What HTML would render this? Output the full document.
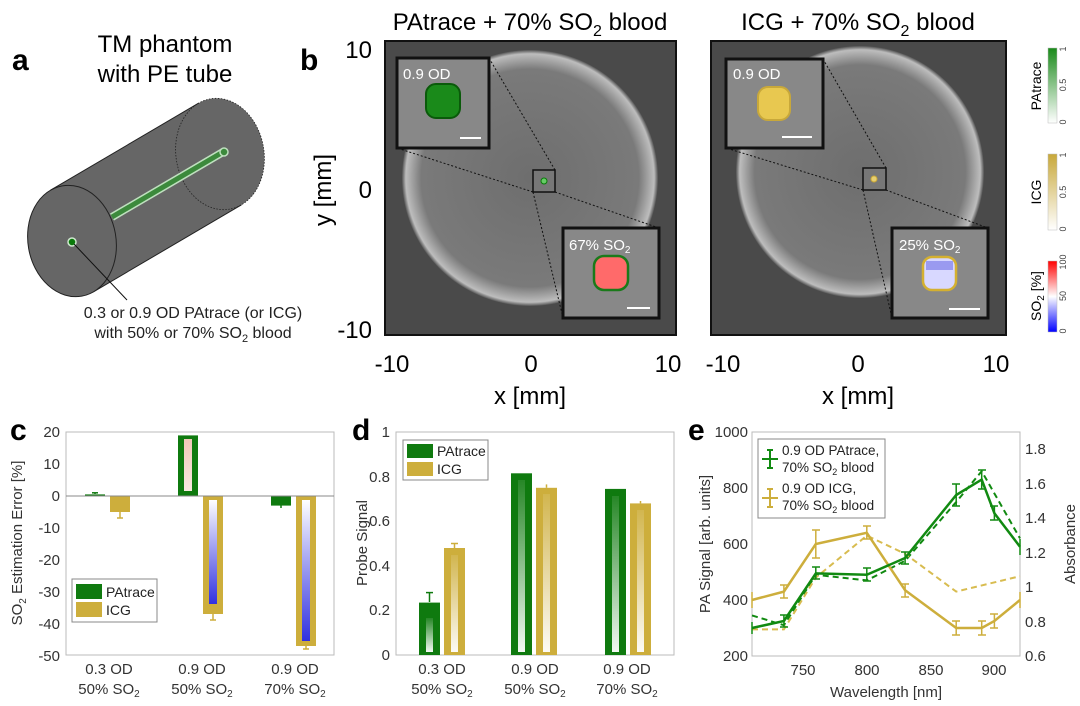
<!DOCTYPE html>
<html><head><meta charset="utf-8"><style>
body{margin:0;background:#fff;width:1080px;height:706px;overflow:hidden}
svg{display:block}
text{font-family:"Liberation Sans",sans-serif}
</style></head><body>
<svg width="1080" height="706" viewBox="0 0 1080 706" xmlns="http://www.w3.org/2000/svg">
<defs>
<radialGradient id="disc" cx="50%" cy="50%" r="50%">
<stop offset="0" stop-color="#6e6e6e"/><stop offset="0.85" stop-color="#7a7a7a"/><stop offset="0.97" stop-color="#bdbdbd"/><stop offset="1" stop-color="#555"/>
</radialGradient>
<linearGradient id="gcb" x1="0" y1="1" x2="0" y2="0"><stop offset="0" stop-color="#fff"/><stop offset="1" stop-color="#1a8a1a"/></linearGradient>
<linearGradient id="ycb" x1="0" y1="1" x2="0" y2="0"><stop offset="0" stop-color="#fff"/><stop offset="1" stop-color="#c8a83a"/></linearGradient>
<linearGradient id="scb" x1="0" y1="1" x2="0" y2="0"><stop offset="0" stop-color="#0000ff"/><stop offset="0.5" stop-color="#fff"/><stop offset="1" stop-color="#ff0000"/></linearGradient>
<linearGradient id="blu" x1="0" y1="0" x2="0" y2="1"><stop offset="0" stop-color="#fff"/><stop offset="1" stop-color="#3030e0"/></linearGradient>
<linearGradient id="pnk" x1="0" y1="0" x2="0" y2="1"><stop offset="0" stop-color="#f0c8b8"/><stop offset="1" stop-color="#f8e8e0"/></linearGradient>
<linearGradient id="wst" x1="0" y1="1" x2="0" y2="0"><stop offset="0" stop-color="#fff" stop-opacity="0.95"/><stop offset="1" stop-color="#fff" stop-opacity="0.1"/></linearGradient>
</defs>

<!-- Panel a -->
<text x="12" y="70" font-size="30" font-weight="bold">a</text>
<text x="165" y="52" font-size="24" text-anchor="middle">TM phantom</text>
<text x="165" y="82" font-size="24" text-anchor="middle">with PE tube</text>
<polygon points="50.5,190.2 198.5,103.2 241.5,204.8 93.5,291.8" fill="#666"/>
<ellipse cx="0" cy="0" rx="56" ry="44" transform="translate(220,154) rotate(80)" fill="#666" stroke="#222" stroke-width="0.8" stroke-dasharray="1.5,1.5"/>
<line x1="50.5" y1="190.2" x2="198.5" y2="103.2" stroke="#222" stroke-width="1"/>
<line x1="93.5" y1="291.8" x2="241.5" y2="204.8" stroke="#222" stroke-width="1"/>
<ellipse cx="0" cy="0" rx="56" ry="44" transform="translate(72,241) rotate(80)" fill="#666" stroke="#222" stroke-width="1"/>
<line x1="112" y1="217" x2="223" y2="152" stroke="#bfe0bf" stroke-width="8"/>
<line x1="112" y1="217" x2="223" y2="152" stroke="#3c8a3c" stroke-width="5"/>
<ellipse cx="224" cy="152" rx="4" ry="4" fill="#3c8a3c" stroke="#bfe0bf" stroke-width="1.5"/>
<circle cx="72" cy="242" r="4" fill="#0a7a0a" stroke="#cfe8cf" stroke-width="1.5"/>
<line x1="74" y1="244" x2="127" y2="300" stroke="#111" stroke-width="1"/>
<text x="193" y="318" font-size="16" text-anchor="middle" fill="#222">0.3 or 0.9 OD PAtrace (or ICG)</text>
<text x="193" y="338" font-size="16" text-anchor="middle" fill="#222">with 50% or 70% SO<tspan font-size="11" dy="4">2</tspan><tspan dy="-4"> blood</tspan></text>

<!-- Panel b -->
<text x="300" y="70" font-size="30" font-weight="bold">b</text>
<text x="530" y="30" font-size="24" text-anchor="middle">PAtrace + 70% SO<tspan font-size="16" dy="6">2</tspan><tspan dy="-6"> blood</tspan></text>
<text x="858" y="30" font-size="24" text-anchor="middle">ICG + 70% SO<tspan font-size="16" dy="6">2</tspan><tspan dy="-6"> blood</tspan></text>
<text transform="translate(331,190) rotate(-90)" font-size="24" text-anchor="middle">y [mm]</text>
<text x="372" y="58" font-size="24" text-anchor="end">10</text>
<text x="372" y="198" font-size="24" text-anchor="end">0</text>
<text x="372" y="338" font-size="24" text-anchor="end">-10</text>
<text x="392" y="372" font-size="24" text-anchor="middle">-10</text>
<text x="531" y="372" font-size="24" text-anchor="middle">0</text>
<text x="668" y="372" font-size="24" text-anchor="middle">10</text>
<text x="530" y="404" font-size="24" text-anchor="middle">x [mm]</text>
<text x="723" y="372" font-size="24" text-anchor="middle">-10</text>
<text x="858" y="372" font-size="24" text-anchor="middle">0</text>
<text x="996" y="372" font-size="24" text-anchor="middle">10</text>
<text x="858" y="404" font-size="24" text-anchor="middle">x [mm]</text>

<rect x="385" y="41" width="291" height="294" fill="#4a4a4a" stroke="#111" stroke-width="2"/>
<ellipse cx="530" cy="178" rx="128" ry="128" fill="url(#disc)"/>
<rect x="533" y="170" width="22" height="22" fill="#777" stroke="#111" stroke-width="1.5"/>
<circle cx="544" cy="181" r="3" fill="#6c6" stroke="#0a7a0a"/>
<g stroke="#111" stroke-width="1" stroke-dasharray="2,2">
<line x1="533" y1="192" x2="397" y2="148"/><line x1="555" y1="170" x2="489" y2="58"/>
<line x1="555" y1="192" x2="659" y2="228"/><line x1="533" y1="192" x2="563" y2="318"/>
</g>
<rect x="397" y="58" width="92" height="90" fill="#888" stroke="#111" stroke-width="3"/>
<rect x="426" y="84" width="34" height="34" rx="10" fill="#1a8a1a" stroke="#0a5a0a" stroke-width="2"/>
<text x="403" y="79" font-size="15" fill="#fff">0.9 OD</text>
<line x1="460" y1="138" x2="481" y2="138" stroke="#fff" stroke-width="2"/>
<rect x="563" y="228" width="96" height="90" fill="#888" stroke="#111" stroke-width="3"/>
<rect x="594" y="256" width="34" height="34" rx="10" fill="#ff6a6a" stroke="#1a7a1a" stroke-width="2.5"/>
<text x="569" y="250" font-size="15" fill="#fff">67% SO<tspan font-size="10" dy="3">2</tspan></text>
<line x1="627" y1="308" x2="650" y2="308" stroke="#fff" stroke-width="2"/>

<rect x="711" y="41" width="295" height="294" fill="#4a4a4a" stroke="#111" stroke-width="2"/>
<ellipse cx="860" cy="172" rx="124" ry="126" fill="url(#disc)"/>
<rect x="863" y="168" width="23" height="22" fill="#777" stroke="#111" stroke-width="1.5"/>
<circle cx="874" cy="179" r="3" fill="#e8d070" stroke="#c8a83a"/>
<g stroke="#111" stroke-width="1" stroke-dasharray="2,2">
<line x1="863" y1="190" x2="726" y2="148"/><line x1="886" y1="168" x2="823" y2="59"/>
<line x1="886" y1="190" x2="988" y2="228"/><line x1="863" y1="190" x2="892" y2="318"/>
</g>
<rect x="726" y="59" width="97" height="89" fill="#888" stroke="#111" stroke-width="3"/>
<rect x="758" y="87" width="32" height="33" rx="10" fill="#e8c850" stroke="#c8a83a" stroke-width="2"/>
<text x="733" y="79" font-size="15" fill="#fff">0.9 OD</text>
<line x1="782" y1="137" x2="812" y2="137" stroke="#fff" stroke-width="2"/>
<rect x="892" y="228" width="96" height="90" fill="#888" stroke="#111" stroke-width="3"/>
<rect x="923" y="257" width="33" height="33" rx="9" fill="#d8d8ff" stroke="#d4b030" stroke-width="2.5"/>
<rect x="926" y="261" width="27" height="9" fill="#9a9af0"/>
<text x="899" y="250" font-size="15" fill="#fff">25% SO<tspan font-size="10" dy="3">2</tspan></text>
<line x1="949" y1="309" x2="980" y2="309" stroke="#fff" stroke-width="2"/>

<rect x="1048" y="48" width="9" height="75" fill="url(#gcb)" stroke="#bbb" stroke-width="0.5"/>
<rect x="1048" y="154" width="9" height="76" fill="url(#ycb)" stroke="#bbb" stroke-width="0.5"/>
<rect x="1048" y="261" width="9" height="71" fill="url(#scb)" stroke="#bbb" stroke-width="0.5"/>
<text transform="translate(1041,86) rotate(-90)" font-size="14" text-anchor="middle">PAtrace</text>
<text transform="translate(1041,192) rotate(-90)" font-size="14" text-anchor="middle">ICG</text>
<text transform="translate(1041,296) rotate(-90)" font-size="14" text-anchor="middle">SO<tspan font-size="10" dy="3">2</tspan><tspan dy="-3"> [%]</tspan></text>
<g font-size="9" fill="#444" text-anchor="middle">
<text transform="translate(1066,122) rotate(-90)">0</text><text transform="translate(1066,85) rotate(-90)">0.5</text><text transform="translate(1066,49) rotate(-90)">1</text>
<text transform="translate(1066,229) rotate(-90)">0</text><text transform="translate(1066,192) rotate(-90)">0.5</text><text transform="translate(1066,155) rotate(-90)">1</text>
<text transform="translate(1066,331) rotate(-90)">0</text><text transform="translate(1066,296) rotate(-90)">50</text><text transform="translate(1066,262) rotate(-90)">100</text>
</g>

<!-- Panel c -->
<text x="10" y="440" font-size="30" font-weight="bold">c</text>
<rect x="66" y="432" width="268" height="223" fill="#fff" stroke="#bbb" stroke-width="1"/>
<g font-size="15" fill="#333" text-anchor="end">
<text x="60" y="437">20</text><text x="60" y="469">10</text><text x="60" y="501">0</text><text x="60" y="533">-10</text>
<text x="60" y="565">-20</text><text x="60" y="597">-30</text><text x="60" y="629">-40</text><text x="60" y="661">-50</text>
</g>
<text transform="translate(22,543) rotate(-90)" font-size="15" fill="#333" text-anchor="middle">SO<tspan font-size="10" dy="4">2</tspan><tspan dy="-4"> Estimation Error [%]</tspan></text>
<g font-size="15" fill="#333" text-anchor="middle">
<text x="109" y="674">0.3 OD</text><text x="109" y="694">50% SO<tspan font-size="10" dy="3">2</tspan></text>
<text x="202" y="674">0.9 OD</text><text x="202" y="694">50% SO<tspan font-size="10" dy="3">2</tspan></text>
<text x="295" y="674">0.9 OD</text><text x="295" y="694">70% SO<tspan font-size="10" dy="3">2</tspan></text>
</g>
<rect x="85" y="494.4" width="20" height="1.6" fill="#0f7a0f"/>
<line x1="95" y1="492.8" x2="95" y2="494" stroke="#0f7a0f" stroke-width="1.5"/><line x1="92" y1="492.8" x2="98" y2="492.8" stroke="#0f7a0f" stroke-width="1.5"/>
<rect x="110" y="496" width="20" height="16" fill="#cdae3c"/>
<line x1="120" y1="512" x2="120" y2="518" stroke="#cdae3c" stroke-width="1.5"/><line x1="117" y1="518" x2="123" y2="518" stroke="#cdae3c" stroke-width="1.5"/>
<rect x="178" y="435.4" width="20" height="60.6" fill="#0f7a0f"/>
<rect x="184" y="439" width="8" height="52" fill="url(#pnk)"/>
<rect x="203" y="496" width="20" height="118" fill="#cdae3c"/>
<rect x="209" y="500" width="8" height="104" fill="url(#blu)"/>
<line x1="213" y1="614" x2="213" y2="620" stroke="#cdae3c" stroke-width="1.5"/><line x1="210" y1="620" x2="216" y2="620" stroke="#cdae3c" stroke-width="1.5"/>
<rect x="271" y="496" width="20" height="9.6" fill="#0f7a0f"/>
<line x1="281" y1="505" x2="281" y2="508" stroke="#0f7a0f" stroke-width="1.5"/>
<rect x="296" y="496" width="20" height="150" fill="#cdae3c"/>
<rect x="302" y="500" width="8" height="141" fill="url(#blu)"/>
<line x1="306" y1="646" x2="306" y2="649" stroke="#cdae3c" stroke-width="1.5"/><line x1="303" y1="649" x2="309" y2="649" stroke="#cdae3c" stroke-width="1.5"/>
<line x1="66" y1="496" x2="334" y2="496" stroke="#888" stroke-width="1"/>
<rect x="72" y="579" width="85" height="43" fill="#fff" stroke="#888"/>
<rect x="76" y="584" width="26" height="15" fill="#0f7a0f"/><text x="106" y="597" font-size="14" fill="#222">PAtrace</text>
<rect x="76" y="602" width="26" height="15" fill="#cdae3c"/><text x="106" y="615" font-size="14" fill="#222">ICG</text>

<!-- Panel d -->
<text x="352" y="440" font-size="30" font-weight="bold">d</text>
<rect x="396" y="432" width="278" height="223" fill="#fff" stroke="#bbb"/>
<g font-size="15" fill="#333" text-anchor="end">
<text x="390" y="437">1</text><text x="390" y="482">0.8</text><text x="390" y="526">0.6</text>
<text x="390" y="571">0.4</text><text x="390" y="615">0.2</text><text x="390" y="660">0</text>
</g>
<text transform="translate(367,543) rotate(-90)" font-size="15" fill="#333" text-anchor="middle">Probe Signal</text>
<g font-size="15" fill="#333" text-anchor="middle">
<text x="442" y="674">0.3 OD</text><text x="442" y="694">50% SO<tspan font-size="10" dy="3">2</tspan></text>
<text x="535" y="674">0.9 OD</text><text x="535" y="694">50% SO<tspan font-size="10" dy="3">2</tspan></text>
<text x="627" y="674">0.9 OD</text><text x="627" y="694">70% SO<tspan font-size="10" dy="3">2</tspan></text>
</g>
<rect x="419" y="602.6" width="21" height="52.4" fill="#0f7a0f"/><rect x="426" y="618" width="7" height="34" fill="url(#wst)"/>
<line x1="429.5" y1="602" x2="429.5" y2="592.6" stroke="#0f7a0f" stroke-width="1.5"/><line x1="426" y1="592.6" x2="433" y2="592.6" stroke="#0f7a0f" stroke-width="1.5"/>
<rect x="444" y="548" width="21" height="107" fill="#cdae3c"/><rect x="451" y="555" width="7" height="97" fill="url(#wst)"/>
<line x1="454.5" y1="548" x2="454.5" y2="543.5" stroke="#cdae3c" stroke-width="1.5"/><line x1="451" y1="543.5" x2="458" y2="543.5" stroke="#cdae3c" stroke-width="1.5"/>
<rect x="511" y="473.3" width="21" height="181.7" fill="#0f7a0f"/><rect x="518" y="480" width="7" height="172" fill="url(#wst)"/>
<rect x="536" y="487.8" width="21" height="167.2" fill="#cdae3c"/><rect x="543" y="494" width="7" height="158" fill="url(#wst)"/>
<line x1="546.5" y1="487.8" x2="546.5" y2="484.4" stroke="#cdae3c" stroke-width="1.5"/>
<rect x="605" y="488.9" width="21" height="166.1" fill="#0f7a0f"/><rect x="612" y="496" width="7" height="156" fill="url(#wst)"/>
<rect x="630" y="503.4" width="21" height="151.6" fill="#cdae3c"/><rect x="637" y="510" width="7" height="142" fill="url(#wst)"/>
<line x1="640.5" y1="503.4" x2="640.5" y2="501" stroke="#cdae3c" stroke-width="1.5"/>
<rect x="403" y="440" width="85" height="40" fill="#fff" stroke="#888"/>
<rect x="407" y="444" width="26" height="14" fill="#0f7a0f"/><text x="437" y="456" font-size="14" fill="#222">PAtrace</text>
<rect x="407" y="462" width="26" height="14" fill="#cdae3c"/><text x="437" y="474" font-size="14" fill="#222">ICG</text>

<!-- Panel e -->
<text x="688" y="440" font-size="30" font-weight="bold">e</text>
<rect x="752" y="432" width="268" height="224" fill="#fff" stroke="#bbb"/>
<g font-size="15" fill="#333" text-anchor="end">
<text x="748" y="437">1000</text><text x="748" y="493">800</text><text x="748" y="549">600</text><text x="748" y="605">400</text><text x="748" y="661">200</text>
</g>
<g font-size="15" fill="#333">
<text x="1025" y="454">1.8</text><text x="1025" y="489">1.6</text><text x="1025" y="523">1.4</text><text x="1025" y="558">1.2</text>
<text x="1025" y="592">1</text><text x="1025" y="627">0.8</text><text x="1025" y="661">0.6</text>
</g>
<g font-size="15" fill="#333" text-anchor="middle">
<text x="803" y="675">750</text><text x="867" y="675">800</text><text x="931" y="675">850</text><text x="994" y="675">900</text>
<text x="886" y="697">Wavelength [nm]</text>
</g>
<text transform="translate(710,544) rotate(-90)" font-size="15" fill="#333" text-anchor="middle">PA Signal [arb. units]</text>
<text transform="translate(1075,544) rotate(-90)" font-size="15" fill="#333" text-anchor="middle">Absorbance</text>
<polyline points="752,615.4 783.9,625.2 815.8,574.8 866.8,580.4 905.1,560.8 956.2,502 981.7,471.2 1020,538.4" fill="none" stroke="#118a11" stroke-width="2" stroke-dasharray="6,4"/>
<polyline points="752,629.4 783.9,629.4 815.8,577.6 866.8,535.6 905.1,553.8 956.2,591.6 1020,576.2" fill="none" stroke="#d8bc50" stroke-width="2" stroke-dasharray="6,4"/>
<polyline points="752,600 783.9,591.6 815.8,544 866.8,532.8 905.1,590.2 956.2,628 981.7,628 994.4,621 1020,600" fill="none" stroke="#cdae3c" stroke-width="2.5"/>
<polyline points="752,628 783.9,621 815.8,573.4 866.8,574.8 905.1,558 956.2,495 981.7,479.6 994.4,513.2 1020,546.8" fill="none" stroke="#118a11" stroke-width="2.5"/>
<g stroke="#cdae3c" stroke-width="1.5">
<path d="M752,592v16M783.9,585v13M780,585h8M780,598h8M815.8,530v28M812,530h8M812,558h8M866.8,526v13M863,526h8M863,539h8M905.1,584v13M901,584h8M901,597h8M956.2,621v14M952,621h8M952,635h8M981.7,621v14M978,621h8M978,635h8M994.4,614v14M990,614h8M990,628h8M1020,592v16"/>
</g>
<g stroke="#118a11" stroke-width="1.5">
<path d="M752,622v12M783.9,615v12M780,615h8M780,627h8M815.8,567v12M812,567h8M812,579h8M866.8,568v13M863,568h8M863,581h8M905.1,552v12M901,552h8M901,564h8M956.2,484v22M952,484h8M952,506h8M981.7,470v19M978,470h8M978,489h8M994.4,506v14M990,506h8M990,520h8M1020,539v16"/>
</g>
<rect x="758" y="439" width="127" height="79" fill="#fff" stroke="#888"/>
<path d="M762,459h16M770,450v18M767,450h6M767,468h6" stroke="#118a11" stroke-width="2"/>
<path d="M762,498h16M770,489v18M767,489h6M767,507h6" stroke="#cdae3c" stroke-width="2"/>
<g font-size="13.5" fill="#222">
<text x="782" y="455">0.9 OD PAtrace,</text><text x="782" y="472">70% SO<tspan font-size="9" dy="3">2</tspan><tspan dy="-3"> blood</tspan></text>
<text x="782" y="493">0.9 OD ICG,</text><text x="782" y="510">70% SO<tspan font-size="9" dy="3">2</tspan><tspan dy="-3"> blood</tspan></text>
</g>
</svg>
</body></html>
